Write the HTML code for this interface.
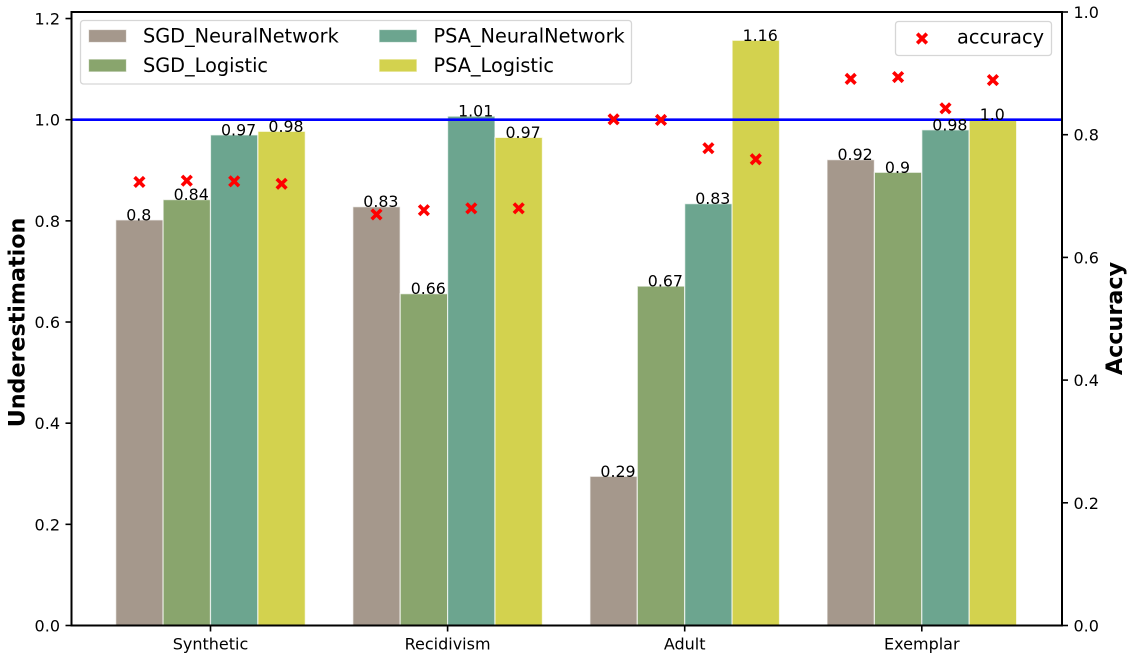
<!DOCTYPE html>
<html lang="en">
<head>
<meta charset="utf-8">
<title>Underestimation and accuracy by dataset</title>
<style>
html,body{margin:0;padding:0;background:#fff;width:1133px;height:658px;overflow:hidden}
svg{display:block}
text{font-family:"DejaVu Sans","Liberation Sans",sans-serif;fill:#000}
</style>
</head>
<body>
<svg id="chart" xmlns="http://www.w3.org/2000/svg" width="1133" height="658" viewBox="0 0 1133 658"></svg>
<script>
const categories = ["Synthetic", "Recidivism", "Adult", "Exemplar"];
const seriesNames = ["SGD_NeuralNetwork", "SGD_Logistic", "PSA_NeuralNetwork", "PSA_Logistic"];
const sgdNeuralNetwork = [0.802, 0.828, 0.295, 0.921];
const sgdLogistic = [0.842, 0.656, 0.671, 0.896];
const psaNeuralNetwork = [0.970, 1.007, 0.834, 0.980];
const psaLogistic = [0.977, 0.965, 1.157, 1.000];
const sgdNeuralNetworkLabels = ["0.8", "0.83", "0.29", "0.92"];
const sgdLogisticLabels = ["0.84", "0.66", "0.67", "0.9"];
const psaNeuralNetworkLabels = ["0.97", "1.01", "0.83", "0.98"];
const psaLogisticLabels = ["0.98", "0.97", "1.16", "1.0"];
const sgdNeuralNetworkAccuracy = [0.723, 0.670, 0.825, 0.891];
const sgdLogisticAccuracy = [0.725, 0.677, 0.824, 0.894];
const psaNeuralNetworkAccuracy = [0.724, 0.680, 0.778, 0.843];
const psaLogisticAccuracy = [0.720, 0.680, 0.760, 0.889];
const leftTicks = [0.0, 0.2, 0.4, 0.6, 0.8, 1.0, 1.2];
const rightTicks = [0.0, 0.2, 0.4, 0.6, 0.8, 1.0];
const referenceValue = 1.0;

const seriesValues = [sgdNeuralNetwork, sgdLogistic, psaNeuralNetwork, psaLogistic];
const seriesLabels = [sgdNeuralNetworkLabels, sgdLogisticLabels, psaNeuralNetworkLabels, psaLogisticLabels];
const seriesAccuracy = [sgdNeuralNetworkAccuracy, sgdLogisticAccuracy, psaNeuralNetworkAccuracy, psaLogisticAccuracy];
const colors = ["#a5988c", "#89a56d", "#6ca58f", "#d3d24e"];

const plot = { left: 71.5, right: 1062, top: 12, bottom: 625.5 };
const yLeft = v => plot.bottom - v * 505.8;
const yRight = v => plot.bottom - v * (plot.bottom - plot.top);
const groupX = i => 210.5 + i * 237.1;
const barWidth = 47.4;
const barCenter = (g, s) => groupX(g) + (s - 1.5) * barWidth;

const svg = document.getElementById('chart');
function make(tag, attrs, parent, content) {
  const el = document.createElementNS('http://www.w3.org/2000/svg', tag);
  for (const k in attrs) el.setAttribute(k, attrs[k]);
  if (content !== undefined) el.textContent = content;
  (parent || svg).appendChild(el);
  return el;
}
function slug(s) { return s.toLowerCase().replace(/_/g, '-'); }
function drawCross(cx, cy, parent) {
  const r = 4.8;
  const m = make('path', {
    d: 'M' + (cx - r) + ' ' + (cy - r) + 'L' + (cx + r) + ' ' + (cy + r) + 'M' + (cx - r) + ' ' + (cy + r) + 'L' + (cx + r) + ' ' + (cy - r),
    stroke: '#ff0000', 'stroke-width': 3.6, fill: 'none'
  }, parent);
  return m;
}

// bars
seriesValues.forEach((vals, s) => {
  vals.forEach((v, g) => {
    const c = barCenter(g, s);
    const bar = make('rect', {
      x: c - barWidth / 2, y: yLeft(v), width: barWidth, height: plot.bottom - yLeft(v),
      fill: colors[s], stroke: '#ffffff', 'stroke-opacity': 0.7, 'stroke-width': 1.2
    });
    
    
  });
});

// reference line
const refLine = make('line', { x1: plot.left, x2: plot.right, y1: yLeft(referenceValue), y2: yLeft(referenceValue), stroke: '#0000ff', 'stroke-width': 2.6 });



// value labels
seriesValues.forEach((vals, s) => {
  vals.forEach((v, g) => {
    const c = barCenter(g, s);
    const lab = make('text', { x: c - 13.2, y: yLeft(v) + 0.5, 'font-size': 15.8 }, svg, seriesLabels[s][g]);
    
    
  });
});

// accuracy markers
seriesAccuracy.forEach((vals, s) => {
  vals.forEach((v, g) => {
    const mark = drawCross(barCenter(g, s), yRight(v));
    
    
  });
});

// spines
const frame = make('rect', { x: plot.left, y: plot.top, width: plot.right - plot.left, height: plot.bottom - plot.top, fill: 'none', stroke: '#000', 'stroke-width': 2 });



// left axis
leftTicks.forEach(t => {
  const y = yLeft(t);
  const tick = make('line', { x1: plot.left - 6, x2: plot.left, y1: y, y2: y, stroke: '#000', 'stroke-width': 1.6 });
  
  
  const label = make('text', { x: plot.left - 11.5, y: y + 6, 'font-size': 16 }, svg, t.toFixed(1));
  label.setAttribute('text-anchor', 'end');
  
  
});

// right axis
rightTicks.forEach(t => {
  const y = yRight(t);
  const tick = make('line', { x1: plot.right, x2: plot.right + 6, y1: y, y2: y, stroke: '#000', 'stroke-width': 1.6 });
  
  
  const label = make('text', { x: plot.right + 11.5, y: y + 6, 'font-size': 16 }, svg, t.toFixed(1));
  
  
});

// category axis
categories.forEach((c, g) => {
  const x = groupX(g);
  const tick = make('line', { x1: x, x2: x, y1: plot.bottom, y2: plot.bottom + 6, stroke: '#000', 'stroke-width': 1.6 });
  
  
  const label = make('text', { x: x, y: 649.5, 'font-size': 16, 'text-anchor': 'middle' }, svg, c);
  
  
});

// series legend
const legendBars = make('g', {});


make('rect', { x: 80.5, y: 20.5, width: 551, height: 63.5, rx: 3, fill: '#fff', 'fill-opacity': 0.8, stroke: '#d6d6d6', 'stroke-width': 1.3 }, legendBars);
const legendX = [88.5, 379];
const legendY = [29.5, 59];
seriesNames.forEach((name, i) => {
  const col = i < 2 ? 0 : 1;
  const row = i % 2;
  const entry = make('g', {}, legendBars);
  
  
  make('rect', { x: legendX[col], y: legendY[row], width: 38, height: 13, fill: colors[i], stroke: '#ffffff', 'stroke-opacity': 0.7, 'stroke-width': 1.2 }, entry);
  make('text', { x: legendX[col] + 54.5, y: legendY[row] + 13, 'font-size': 19.3 }, entry, name);
});

// accuracy legend
const legendAcc = make('g', {});


make('rect', { x: 895.5, y: 21.5, width: 156, height: 34, rx: 3, fill: '#fff', 'fill-opacity': 0.8, stroke: '#d6d6d6', 'stroke-width': 1.3 }, legendAcc);
drawCross(922, 38.5, legendAcc);
make('text', { x: 957, y: 43.5, 'font-size': 19.3 }, legendAcc, 'accuracy');

// axis titles
const yTitle = make('text', { x: 0, y: 0, 'font-size': 22.2, 'font-weight': 700, 'text-anchor': 'middle', transform: 'translate(24.5 322.5) rotate(-90)' }, svg, 'Underestimation');


const y2Title = make('text', { x: 0, y: 0, 'font-size': 22.3, 'font-weight': 700, 'text-anchor': 'middle', transform: 'translate(1122 318.5) rotate(-90)' }, svg, 'Accuracy');


</script>
</body>
</html>
